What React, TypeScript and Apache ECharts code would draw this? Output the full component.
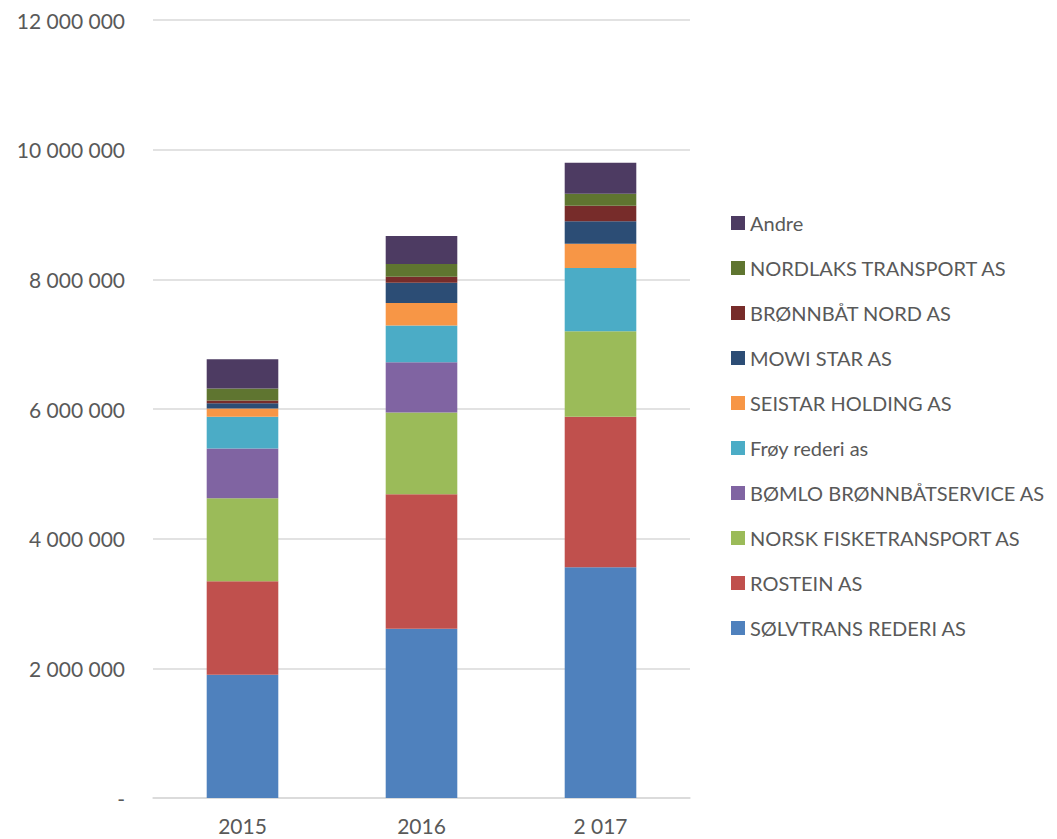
import React, { useEffect, useRef } from "react";
import * as echarts from "echarts";

const years = ["2015", "2016", "2 017"];
const solvtrans = [1900000, 2610000, 3560000];
const rostein = [1445000, 2077000, 2322000];
const norskFisk = [1280000, 1258000, 1317000];
const bomlo = [765000, 777000, 0];
const froy = [489000, 564000, 976000];
const seistar = [128000, 350000, 375000];
const mowi = [83000, 313000, 345000];
const bronnbat = [40000, 92000, 240000];
const nordlaks = [185000, 196000, 185000];
const andre = [453000, 432000, 478000];

const seriesDefs = [
  { name: "SØLVTRANS REDERI AS", data: solvtrans, color: "#4f81bd" },
  { name: "ROSTEIN AS", data: rostein, color: "#c0504d" },
  { name: "NORSK FISKETRANSPORT AS", data: norskFisk, color: "#9bbb59" },
  { name: "BØMLO BRØNNBÅTSERVICE AS", data: bomlo, color: "#8064a2" },
  { name: "Frøy rederi as", data: froy, color: "#4bacc6" },
  { name: "SEISTAR HOLDING AS", data: seistar, color: "#f79646" },
  { name: "MOWI STAR AS", data: mowi, color: "#2c4d75" },
  { name: "BRØNNBÅT NORD AS", data: bronnbat, color: "#772c2a" },
  { name: "NORDLAKS TRANSPORT AS", data: nordlaks, color: "#5f7530" },
  { name: "Andre", data: andre, color: "#4d3b62" },
];

const FONT = "Lato";

export default function App() {
  const ref = useRef<HTMLDivElement>(null);
  useEffect(() => {
    if (!ref.current) return;
    const chart = echarts.init(ref.current, undefined, { renderer: "svg" });
    chart.setOption({
      animation: false,
      textStyle: { fontFamily: FONT },
      grid: { left: 153, right: 367, top: 20, bottom: 41, containLabel: false },
      legend: {
        orient: "vertical",
        left: 726,
        top: 208,
        itemWidth: 14,
        itemHeight: 14,
        itemGap: 25,
        icon: "rect",
        data: seriesDefs.map((s) => s.name).reverse(),
        textStyle: { fontSize: 20, color: "#595959", fontFamily: FONT },
      },
      xAxis: {
        type: "category",
        data: years,
        axisLine: { show: true, lineStyle: { color: "#d9d9d9", width: 1.5 } },
        axisTick: { show: false },
        axisLabel: { fontSize: 21, color: "#595959", margin: 17, fontFamily: FONT },
      },
      yAxis: {
        type: "value",
        min: 0,
        max: 12000000,
        interval: 2000000,
        axisLine: { show: false },
        axisTick: { show: false },
        splitLine: { lineStyle: { color: "#d9d9d9", width: 1.5 } },
        axisLabel: {
          fontSize: 21,
          color: "#595959",
          margin: 28,
          fontFamily: FONT,
          formatter: (v: number) =>
            v === 0 ? "-" : String(v).replace(/\B(?=(\d{3})+(?!\d))/g, " "),
        },
      },
      series: seriesDefs.map((s) => ({
        name: s.name,
        type: "bar",
        stack: "total",
        data: s.data,
        barWidth: "40%",
        itemStyle: { color: s.color },
      })),
    });
    return () => chart.dispose();
  }, []);
  return <div ref={ref} style={{ width: 1057, height: 839, position: "absolute", left: 0, top: 0 }} />;
}
